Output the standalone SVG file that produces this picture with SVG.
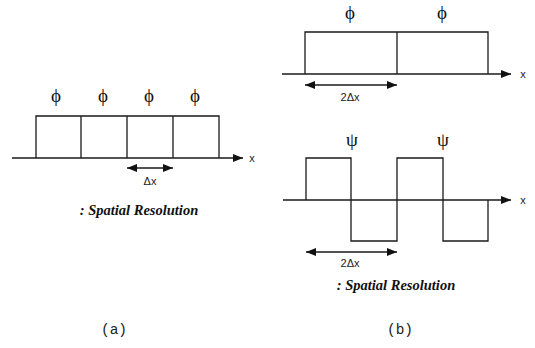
<svg xmlns="http://www.w3.org/2000/svg" width="535" height="348" viewBox="0 0 535 348">
<style>
.ln{fill:none;stroke:#1a1a1a;stroke-width:1.3}
.gr{font-family:"Liberation Serif","DejaVu Serif",serif;font-size:19px;fill:#111;text-anchor:middle}
.lb{font-family:"Liberation Sans","DejaVu Sans",sans-serif;font-size:11px;fill:#222;text-anchor:middle}
.sr{font-family:"Liberation Serif","DejaVu Serif",serif;font-size:14.5px;font-weight:bold;font-style:italic;fill:#111;text-anchor:middle}
.cap{font-family:"Liberation Mono","DejaVu Sans Mono",monospace;font-size:14.5px;fill:#222;text-anchor:middle}
</style>
<defs>
<marker id="ah" viewBox="0 0 10 8" refX="10" refY="4" markerWidth="10" markerHeight="8" markerUnits="userSpaceOnUse" orient="auto-start-reverse">
<path d="M0,0 L10,4 L0,8 Z" fill="#111"/>
</marker>
</defs>
<rect width="535" height="348" fill="#fff"/>
<g id="panel-a">
<g id="a-boxes">
<path class="ln" d="M36,158 V116 H219 V158 M81,116 V158 M127,116 V158 M173,116 V158"/>
</g>
<g id="a-labels">
<text class="gr" x="56" y="102">ϕ</text>
<text class="gr" x="103" y="102">ϕ</text>
<text class="gr" x="149" y="102">ϕ</text>
<text class="gr" x="195" y="102">ϕ</text>
<text class="lb" x="252" y="162">x</text>
<text class="lb" x="150" y="185">Δx</text>
<text class="sr" x="139" y="215">: Spatial Resolution</text>
<text class="cap" x="114" y="334">(a)</text>
</g>
</g>
<g id="panel-b-top">
<path class="ln" d="M305,74 V32 H488 V74 M397,32 V74"/>
<text class="gr" x="350" y="19">ϕ</text>
<text class="gr" x="442" y="19">ϕ</text>
<text class="lb" x="523" y="78">x</text>
<text class="lb" x="350" y="101">2Δx</text>
</g>
<g id="panel-b-bottom">
<path class="ln" d="M306,200 V158 H351 V241 H397 V158 H443 V241 H488 V200"/>
<text class="gr" x="352" y="146">ψ</text>
<text class="gr" x="443" y="146">ψ</text>
<text class="lb" x="523" y="204">x</text>
<text class="lb" x="350" y="267">2Δx</text>
<text class="sr" x="396" y="290">: Spatial Resolution</text>
<text class="cap" x="400" y="334">(b)</text>
</g>
<g id="connectors">
<line class="ln" x1="12" y1="158" x2="243" y2="158" marker-end="url(#ah)"/>
<line class="ln" x1="127" y1="168" x2="173" y2="168" marker-start="url(#ah)" marker-end="url(#ah)"/>
<line class="ln" x1="282" y1="74" x2="511" y2="74" marker-end="url(#ah)"/>
<line class="ln" x1="305" y1="85" x2="397" y2="85" marker-start="url(#ah)" marker-end="url(#ah)"/>
<line class="ln" x1="283" y1="200" x2="511" y2="200" marker-end="url(#ah)"/>
<line class="ln" x1="306" y1="252" x2="397" y2="252" marker-start="url(#ah)" marker-end="url(#ah)"/>
</g>
</svg>
